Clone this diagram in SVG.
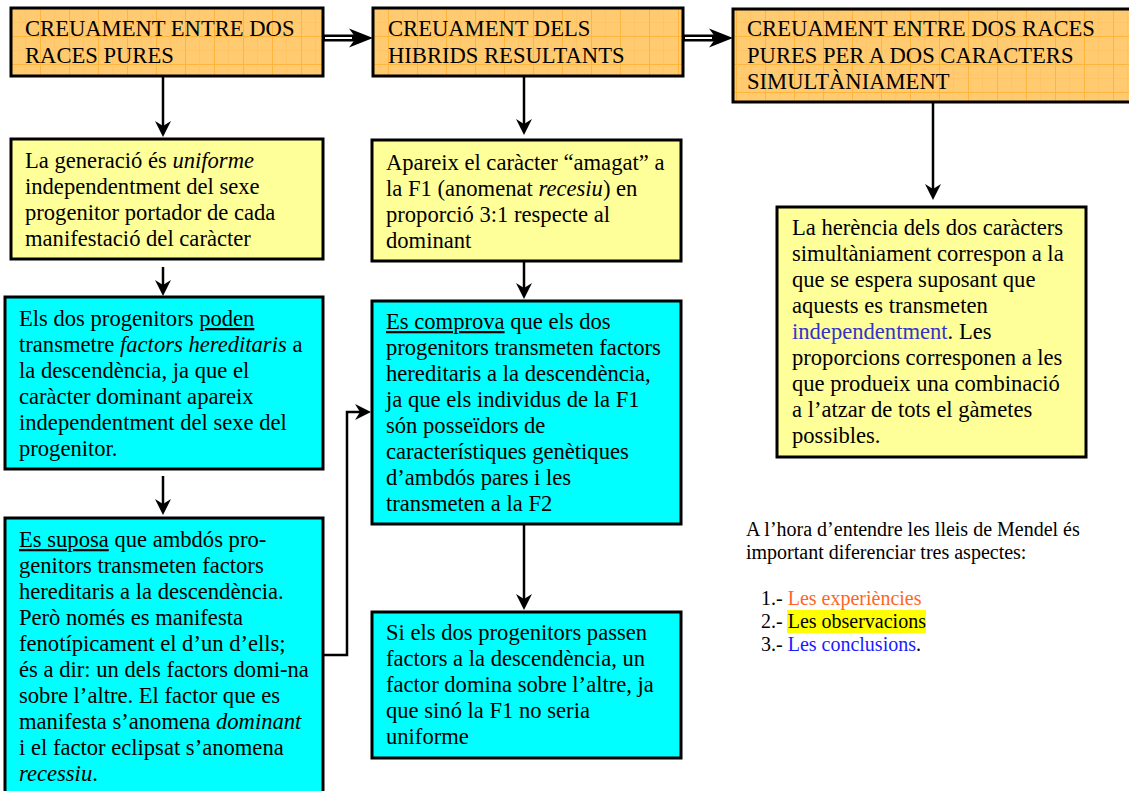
<svg xmlns="http://www.w3.org/2000/svg" width="1129" height="791" viewBox="0 0 1129 791">
<style>
  .t { font-family: "Liberation Serif", "Times New Roman", serif; font-size: 22.6px; fill: #000; }
  .h { font-family: "Liberation Serif", "Times New Roman", serif; font-size: 22.6px; fill: #000; }
  .s { font-family: "Liberation Serif", "Times New Roman", serif; font-size: 20px; fill: #000; }
  .box { stroke: #000; stroke-width: 3; }
  .yel { fill: #FFFF99; }
  .cya { fill: #00FFFF; }
  .ora { fill: url(#grid); }
  .conn { stroke: #000; stroke-width: 2.5; fill: none; }
  .dbl { stroke: #000; stroke-width: 7; fill: none; }
  .dblw { stroke: #fff; stroke-width: 2; fill: none; }
  .head { fill: #000; }
  .i { font-style: italic; }
  .u { text-decoration: underline; }
</style>
<defs>
  <pattern id="grid" width="29" height="28" patternUnits="userSpaceOnUse" x="11" y="8">
    <rect width="29" height="28" fill="#FFCA70"/>
    <path d="M0 0.5 H29 M0.5 0 V28" stroke="#FFB43C" stroke-width="1"/>
    <path d="M0 14.5 H29 M14.5 0 V28" stroke="#FFC060" stroke-width="0.6"/>
  </pattern>
  <marker id="ar" viewBox="-16 -9 21 18" refX="0" refY="0" markerWidth="21" markerHeight="18" markerUnits="userSpaceOnUse" orient="auto">
    <path d="M4,0 L-12,-8 L-7,0 L-12,8 Z" fill="#000"/>
  </marker>
  <path id="dhead" d="M0,0 L-24,-9.5 L-17,0 L-24,9.5 Z"/>
</defs>
<rect width="1129" height="791" fill="#fff"/>

<g id="connectors">
  <line class="dbl" x1="323" y1="38" x2="360" y2="38"/>
  <line class="dblw" x1="325" y1="38" x2="352" y2="38"/>
  <use href="#dhead" class="head" x="373" y="38"/>
  <line class="dbl" x1="683" y1="38" x2="720" y2="38"/>
  <line class="dblw" x1="685" y1="38" x2="712" y2="38"/>
  <use href="#dhead" class="head" x="733" y="38"/>
  <line class="conn" x1="163" y1="77" x2="163" y2="133" marker-end="url(#ar)"/>
  <line class="conn" x1="163" y1="267" x2="163" y2="292" marker-end="url(#ar)"/>
  <line class="conn" x1="163" y1="476" x2="163" y2="511" marker-end="url(#ar)"/>
  <line class="conn" x1="524" y1="77" x2="524" y2="131" marker-end="url(#ar)"/>
  <line class="conn" x1="524" y1="262" x2="524" y2="295" marker-end="url(#ar)"/>
  <line class="conn" x1="524" y1="525" x2="524" y2="606" marker-end="url(#ar)"/>
  <line class="conn" x1="933" y1="103" x2="933" y2="196" marker-end="url(#ar)"/>
  <polyline class="conn" points="323,655 347,655 347,412 367,412" marker-end="url(#ar)"/>
</g>

<g id="n-races-pures">
  <rect class="box ora" x="11" y="8" width="312" height="68"/>
  <text class="h" x="25" y="36">CREUAMENT ENTRE DOS</text>
  <text class="h" x="25" y="62.5">RACES PURES</text>
</g>
<g id="n-hibrids">
  <rect class="box ora" x="373" y="8" width="310" height="68"/>
  <text class="h" x="388" y="36">CREUAMENT DELS</text>
  <text class="h" x="388" y="62.5">HIBRIDS RESULTANTS</text>
</g>
<g id="n-dos-caracters">
  <rect class="box ora" x="733" y="9" width="410" height="93"/>
  <text class="h" x="747" y="36">CREUAMENT ENTRE DOS RACES</text>
  <text class="h" x="747" y="62.5">PURES PER A DOS CARACTERS</text>
  <text class="h" x="747" y="89">SIMULTÀNIAMENT</text>
</g>

<g id="n-uniforme">
  <rect class="box yel" x="11" y="139" width="312" height="120"/>
  <text class="t" x="25" y="168">La generació és <tspan class="i">uniforme</tspan></text>
  <text class="t" x="25" y="194">independentment del sexe</text>
  <text class="t" x="25" y="220">progenitor portador de cada</text>
  <text class="t" x="25" y="246">manifestació del caràcter</text>
</g>

<g id="n-amagat">
  <rect class="box yel" x="372" y="140" width="309" height="121"/>
  <text class="t" x="386" y="170">Apareix el caràcter “amagat” a</text>
  <text class="t" x="386" y="196">la F1 (anomenat <tspan class="i">recesiu</tspan>) en</text>
  <text class="t" x="386" y="222">proporció 3:1 respecte al</text>
  <text class="t" x="386" y="247.5">dominant</text>
</g>

<g id="n-herencia">
  <rect class="box yel" x="777" y="207" width="309" height="250"/>
  <text class="t" x="792" y="235">La herència dels dos caràcters</text>
  <text class="t" x="792" y="261">simultàniament correspon a la</text>
  <text class="t" x="792" y="287">que se espera suposant que</text>
  <text class="t" x="792" y="313">aquests es transmeten</text>
  <text class="t" x="792" y="339"><tspan fill="#3333CC">independentment</tspan>. Les</text>
  <text class="t" x="792" y="365">proporcions corresponen a les</text>
  <text class="t" x="792" y="391">que produeix una combinació</text>
  <text class="t" x="792" y="417">a l’atzar de tots el gàmetes</text>
  <text class="t" x="792" y="443">possibles.</text>
</g>

<g id="n-poden">
  <rect class="box cya" x="5" y="297" width="318" height="172"/>
  <text class="t" x="19" y="326">Els dos progenitors <tspan class="u">poden</tspan></text>
  <text class="t" x="19" y="352">transmetre <tspan class="i">factors hereditaris</tspan> a</text>
  <text class="t" x="19" y="378">la descendència, ja que el</text>
  <text class="t" x="19" y="404">caràcter dominant apareix</text>
  <text class="t" x="19" y="430">independentment del sexe del</text>
  <text class="t" x="19" y="456">progenitor.</text>
</g>

<g id="n-suposa">
  <rect class="box cya" x="5" y="518" width="318" height="300"/>
  <text class="t" x="19" y="547"><tspan class="u">Es suposa</tspan> que ambdós pro-</text>
  <text class="t" x="19" y="573">genitors transmeten factors</text>
  <text class="t" x="19" y="599">hereditaris a la descendència.</text>
  <text class="t" x="19" y="625">Però només es manifesta</text>
  <text class="t" x="19" y="651">fenotípicament el d’un d’ells;</text>
  <text class="t" x="19" y="677">és a dir: un dels factors domi-na</text>
  <text class="t" x="19" y="703">sobre l’altre. El factor que es</text>
  <text class="t" x="19" y="729">manifesta s’anomena <tspan class="i">dominant</tspan></text>
  <text class="t" x="19" y="755">i el factor eclipsat s’anomena</text>
  <text class="t" x="19" y="781"><tspan class="i">recessiu</tspan>.</text>
</g>

<g id="n-comprova">
  <rect class="box cya" x="372" y="301" width="309" height="223"/>
  <text class="t" x="386" y="329"><tspan class="u">Es comprova</tspan> que els dos</text>
  <text class="t" x="386" y="355">progenitors transmeten factors</text>
  <text class="t" x="386" y="381">hereditaris a la descendència,</text>
  <text class="t" x="386" y="407">ja que els individus de la F1</text>
  <text class="t" x="386" y="433">són posseïdors de</text>
  <text class="t" x="386" y="459">característiques genètiques</text>
  <text class="t" x="386" y="485">d’ambdós pares i les</text>
  <text class="t" x="386" y="511">transmeten a la F2</text>
</g>

<g id="n-domina">
  <rect class="box cya" x="372" y="612" width="309" height="146"/>
  <text class="t" x="386" y="640">Si els dos progenitors passen</text>
  <text class="t" x="386" y="666">factors a la descendència, un</text>
  <text class="t" x="386" y="692">factor domina sobre l’altre, ja</text>
  <text class="t" x="386" y="718">que sinó la F1 no seria</text>
  <text class="t" x="386" y="744">uniforme</text>
</g>

<g id="n-nota">
  <text class="s" x="746" y="536">A l’hora d’entendre les lleis de Mendel és</text>
  <text class="s" x="746" y="559">important diferenciar tres aspectes:</text>
  <rect x="787" y="610" width="139" height="23" fill="#FFFF00"/>
  <text class="s" x="761" y="605">1.- <tspan fill="#FF6622">Les experiències</tspan></text>
  <text class="s" x="761" y="628">2.- Les observacions</text>
  <text class="s" x="761" y="651">3.- <tspan fill="#1A1AFF">Les conclusions</tspan>.</text>
</g>
</svg>
